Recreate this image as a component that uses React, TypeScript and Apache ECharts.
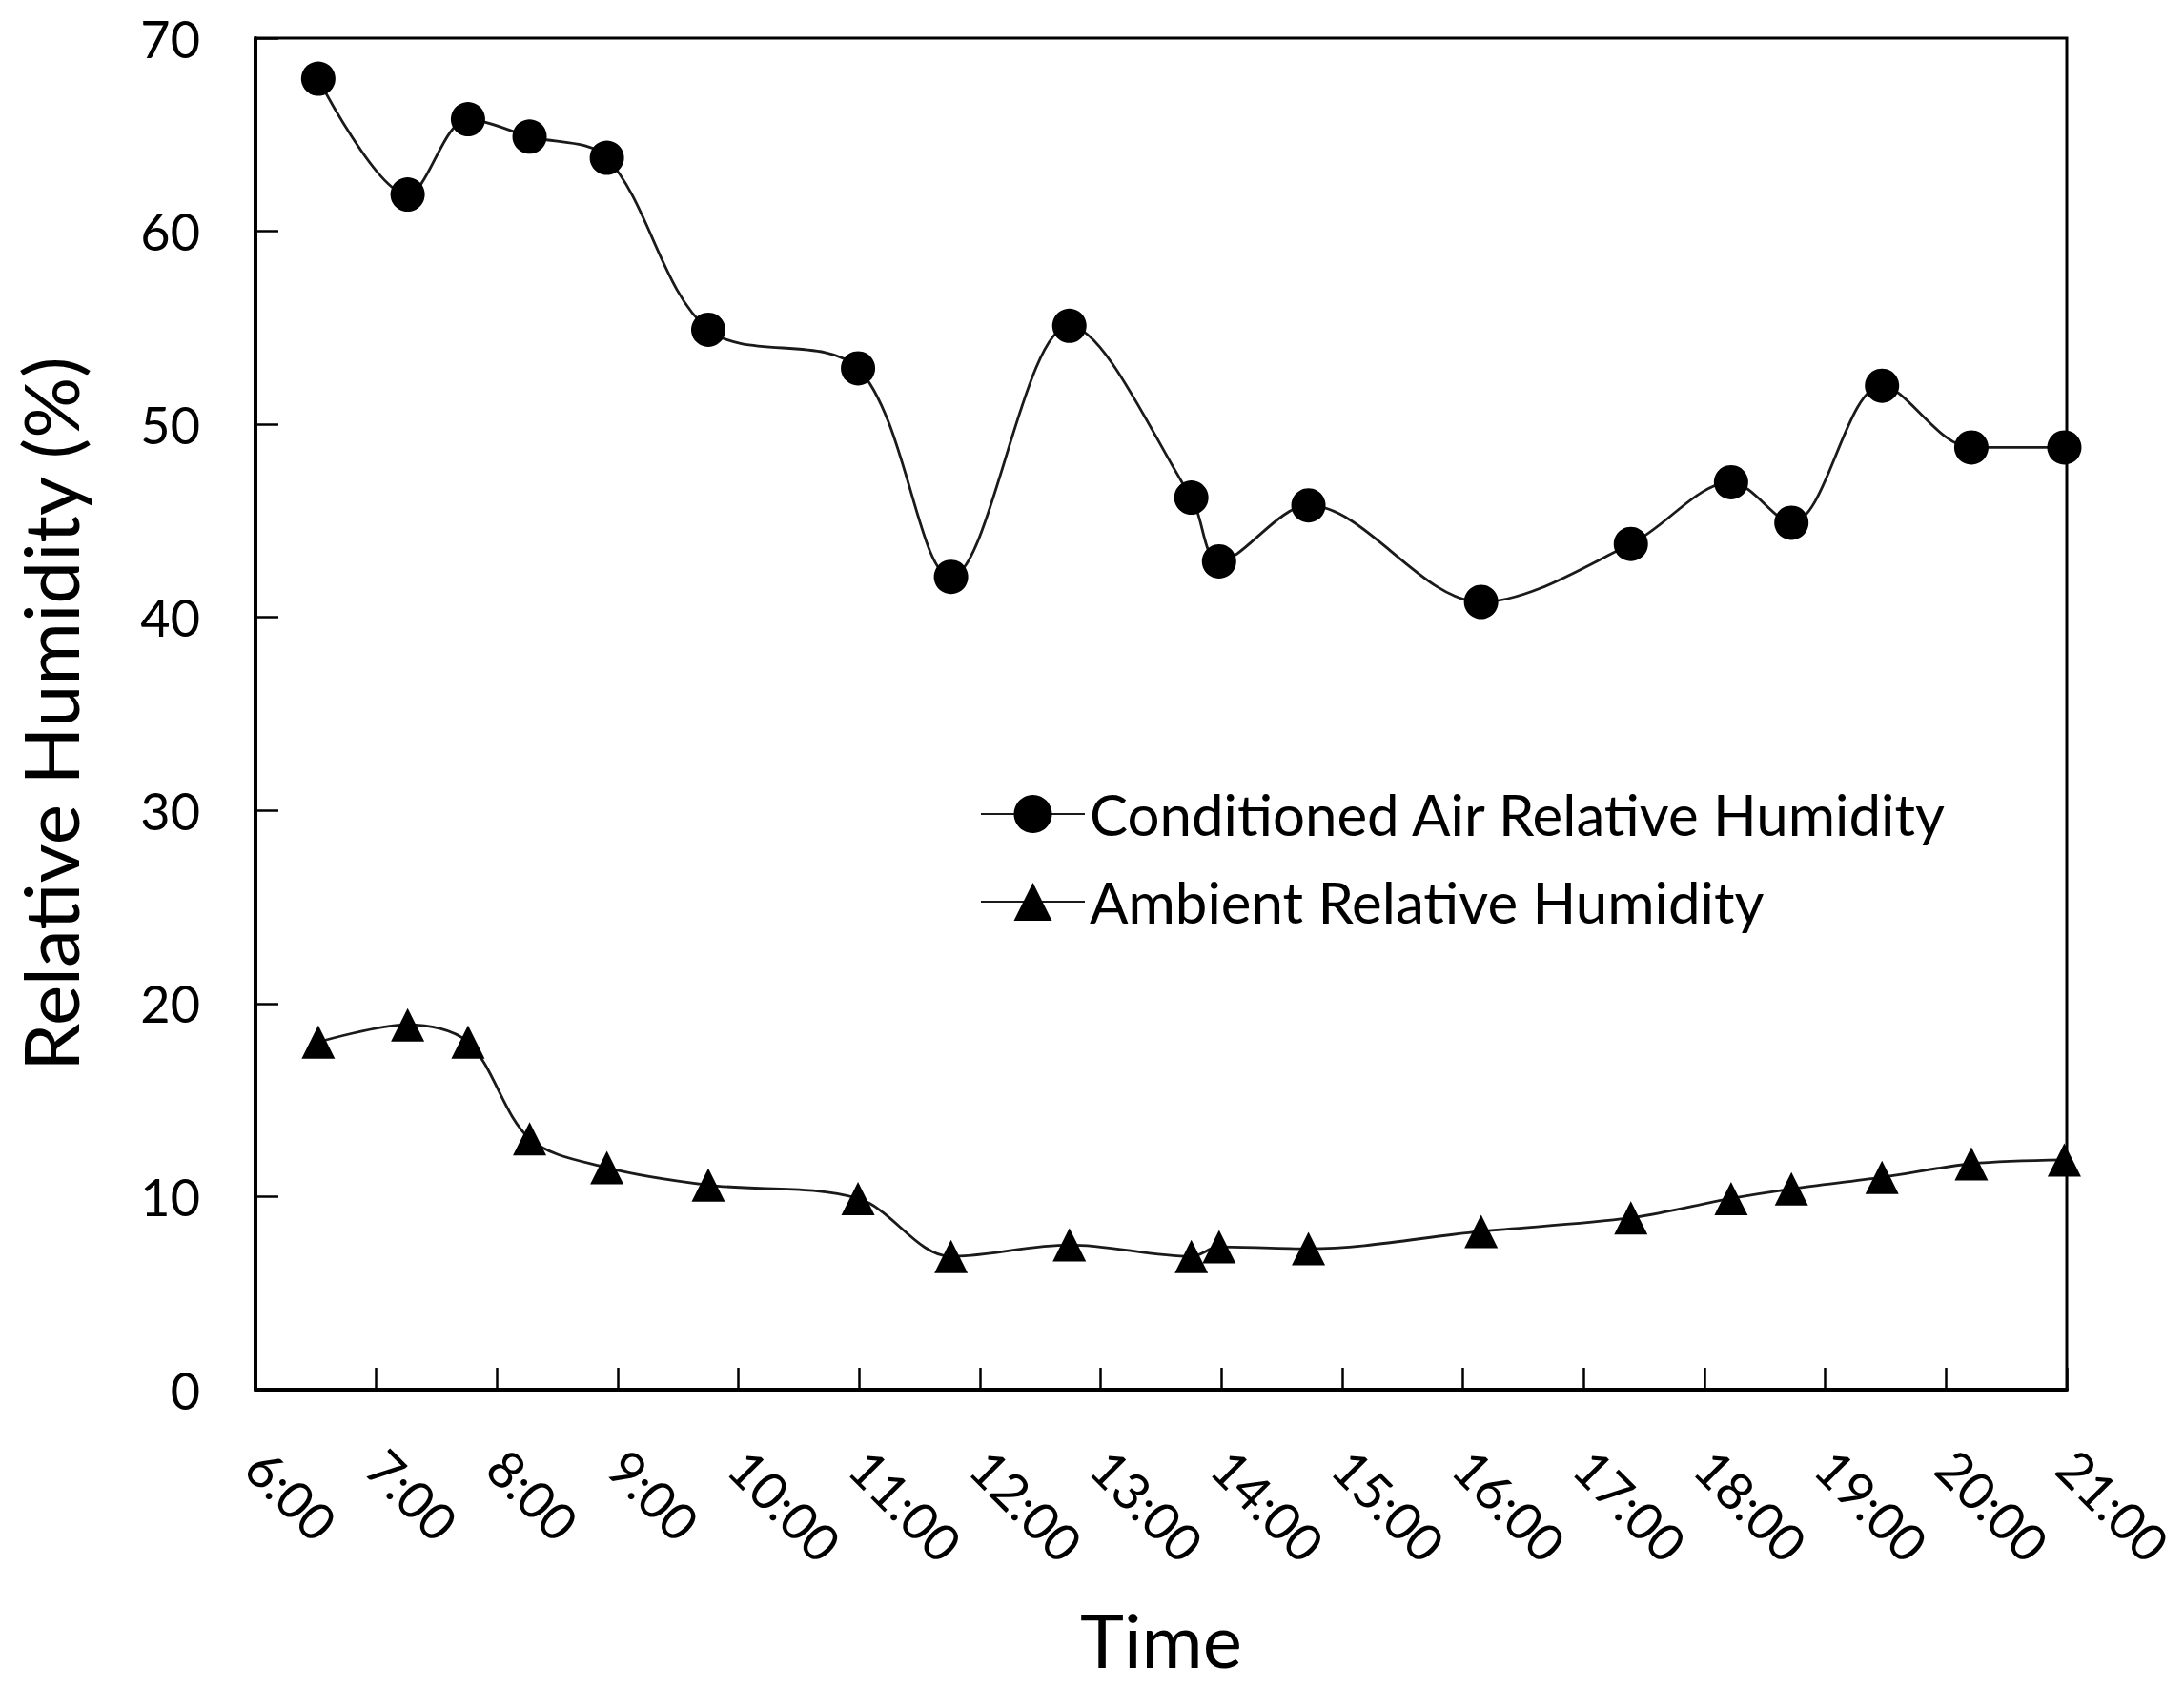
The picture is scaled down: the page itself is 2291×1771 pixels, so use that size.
import React, { useEffect, useRef } from "react";
import * as echarts from "echarts";

const timeHours = [6.52, 7.26, 7.76, 8.27, 8.91, 9.75, 10.99, 11.76, 12.74, 13.75, 13.98, 14.72, 16.15, 17.39, 18.22, 18.72, 19.47, 20.21, 20.98];
const conditionedRH = [67.9, 61.9, 65.8, 64.9, 63.8, 54.9, 52.9, 42.1, 55.1, 46.2, 42.9, 45.8, 40.8, 43.8, 47.0, 44.9, 52.0, 48.8, 48.8];
const ambientRH = [18.0, 18.9, 18.0, 13.0, 11.5, 10.6, 9.9, 6.9, 7.5, 6.9, 7.4, 7.3, 8.2, 8.9, 9.9, 10.4, 11.0, 11.7, 11.9];
const seriesNames = ["Conditioned Air Relative Humidity", "Ambient Relative Humidity"];
const xAxisTitle = "Time";
const yAxisTitle = "Relative Humidity (%)";

const FONT = "Lato";

export default function App() {
  const ref = useRef<HTMLDivElement>(null);
  useEffect(() => {
    if (!ref.current) return;
    const chart = echarts.init(ref.current, undefined, { renderer: "svg" });
    const cond = timeHours.map((t, i) => [t, conditionedRH[i]]);
    const amb = timeHours.map((t, i) => [t, ambientRH[i]]);
    chart.setOption({
      animation: false,
      backgroundColor: "#ffffff",
      textStyle: { fontFamily: FONT, color: "#000" },
      grid: {
        left: 268,
        right: 123,
        top: 40,
        bottom: 313,
        show: true,
        borderColor: "#000",
        borderWidth: 3,
        backgroundColor: "transparent",
      },
      legend: {
        orient: "vertical",
        left: 1028,
        top: 824,
        padding: 0,
        itemWidth: 109,
        itemHeight: 50,
        itemGap: 32,
        textStyle: { fontFamily: FONT, fontSize: 60, color: "#000" },
        data: seriesNames,
      },
      xAxis: {
        type: "value",
        min: 6,
        max: 21,
        interval: 1,
        name: xAxisTitle,
        nameLocation: "middle",
        nameGap: 223,
        nameTextStyle: { fontFamily: FONT, fontSize: 78, color: "#000" },
        axisLine: { show: true, lineStyle: { color: "#000", width: 4 } },
        axisTick: { show: true, inside: true, length: 23, lineStyle: { color: "#000", width: 2.5 } },
        axisLabel: {
          rotate: -45,
          margin: 72,
          fontFamily: FONT,
          fontSize: 54,
          color: "#000",
          formatter: (v: number) => `${v}:00`,
        },
        splitLine: { show: false },
      },
      yAxis: {
        type: "value",
        min: 0,
        max: 70,
        interval: 10,
        name: yAxisTitle,
        nameLocation: "middle",
        nameGap: 176,
        nameTextStyle: { fontFamily: FONT, fontSize: 80, color: "#000" },
        axisLine: { show: true, lineStyle: { color: "#000", width: 4 } },
        axisTick: { show: true, inside: true, length: 24, lineStyle: { color: "#000", width: 2.5 } },
        axisLabel: { margin: 58, fontFamily: FONT, fontSize: 54, color: "#000" },
        splitLine: { show: false },
      },
      series: [
        {
          name: seriesNames[0],
          type: "line",
          data: cond,
          smooth: 0.33,
          symbol: "circle",
          symbolSize: 36,
          itemStyle: { color: "#000" },
          lineStyle: { color: "#1a1a1a", width: 2.8 },
        },
        {
          name: seriesNames[1],
          type: "line",
          data: amb,
          smooth: 0.33,
          symbol: "triangle",
          symbolSize: 35,
          itemStyle: { color: "#000" },
          lineStyle: { color: "#1a1a1a", width: 2.8 },
        },
      ],
    });
    return () => chart.dispose();
  }, []);
  return (
    <div
      ref={ref}
      style={{ position: "absolute", left: 0, top: 0, width: 2291, height: 1771, background: "#fff" }}
    />
  );
}
